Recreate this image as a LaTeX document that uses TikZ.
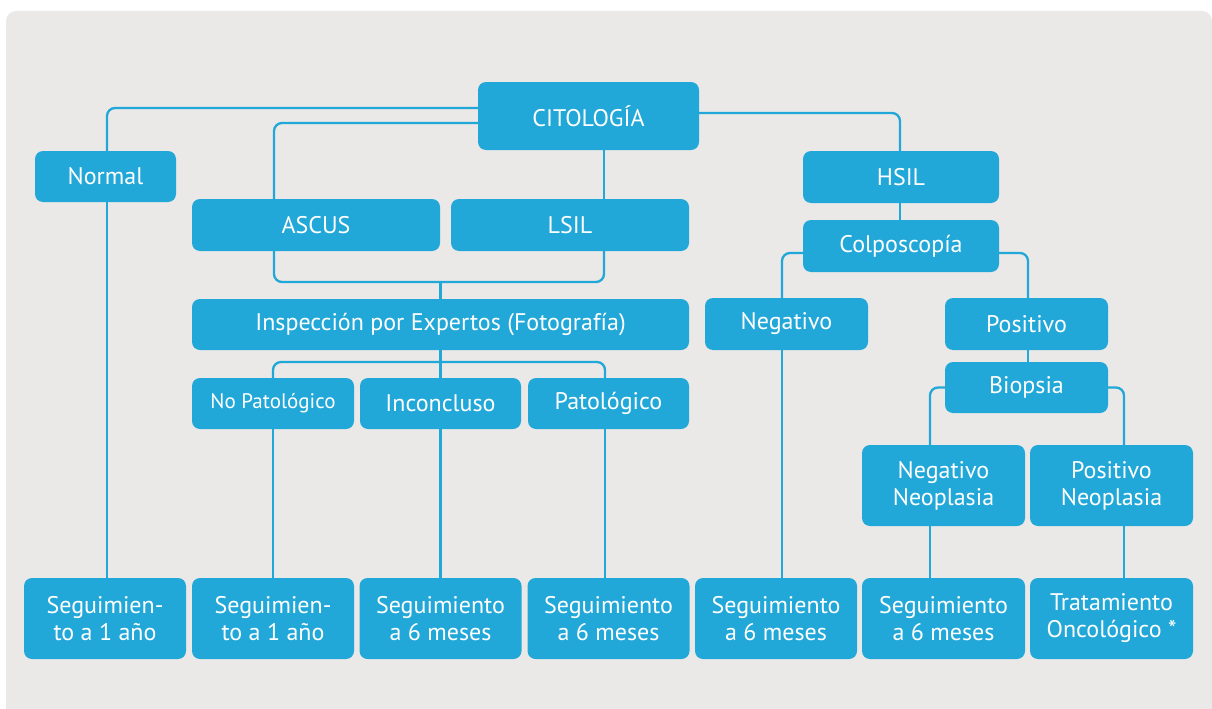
\documentclass[tikz,border=0pt]{standalone}
\usepackage{fontspec}
\setmainfont{PT Sans}
\definecolor{cblue}{HTML}{22A8D8}
\definecolor{bggrey}{HTML}{EBE9E7}
\tikzset{
  box/.style={fill=cblue, rounded corners=8pt, text=white, align=center, inner sep=0pt,
    font=\fontsize{24}{27}\selectfont},
  conn/.style={draw=cblue, line width=2.3pt, rounded corners=8pt},
}
\begin{document}
\begin{tikzpicture}[x=1pt,y=-1pt]
\clip (0,0) rectangle (1212,709);
\fill[bggrey, rounded corners=10pt] (6,11) rectangle (1212,730);
\coordinate (merge) at (440.5,282);
\coordinate (split) at (440.5,362);
% nodes
\node[box, minimum width=221pt, minimum height=68pt] (cito) at (588.5,116) {CITOLOGÍA};
\node[box, minimum width=141pt, minimum height=51pt] (normal) at (105.5,176.5) {Normal};
\node[box, minimum width=248pt, minimum height=52pt] (ascus) at (316,225) {ASCUS};
\node[box, minimum width=238pt, minimum height=52pt] (lsil) at (570,225) {LSIL};
\node[box, minimum width=196pt, minimum height=52pt] (hsil) at (901,177) {HSIL};
\node[box, minimum width=196pt, minimum height=52pt] (colpo) at (901,246) {Colposcopía};
\node[box, minimum width=163pt, minimum height=52pt] (neg) at (786.5,324) {Negativo};
\node[box, minimum width=163pt, minimum height=52pt] (pos) at (1026.5,324) {Positivo};
\node[box, minimum width=163pt, minimum height=51pt] (biop) at (1026.5,387.5) {Biopsia};
\node[box, minimum width=497pt, minimum height=51pt] (insp) at (440.5,324.5) {Inspección por Expertos (Fotografía)};
\node[box, minimum width=162pt, minimum height=51pt, font=\fontsize{21}{25}\selectfont] (nopat) at (273,403.5) {No Patológico};
\node[box, minimum width=161pt, minimum height=51pt] (incon) at (440.5,403.5) {Inconcluso};
\node[box, minimum width=161pt, minimum height=51pt] (pato) at (608.5,403.5) {Patológico};
\node[box, minimum width=163pt, minimum height=81pt] (negneo) at (943.5,485.5) {Negativo\\Neoplasia};
\node[box, minimum width=163pt, minimum height=81pt] (posneo) at (1111.5,485.5) {Positivo\\Neoplasia};
\node[box, minimum width=162pt, minimum height=81pt] (s1) at (105,618.5) {Seguimien-\\to a 1 año};
\node[box, minimum width=162pt, minimum height=81pt] (s2) at (273,618.5) {Seguimien-\\to a 1 año};
\node[box, minimum width=162pt, minimum height=81pt] (s3) at (440.5,618.5) {Seguimiento\\a 6 meses};
\node[box, minimum width=162pt, minimum height=81pt] (s4) at (608.5,618.5) {Seguimiento\\a 6 meses};
\node[box, minimum width=162pt, minimum height=81pt] (s5) at (776,618.5) {Seguimiento\\a 6 meses};
\node[box, minimum width=163pt, minimum height=81pt] (s6) at (943.5,618.5) {Seguimiento\\a 6 meses};
\node[box, minimum width=163pt, minimum height=81pt] (s7) at (1111.5,618.5) {Tratamiento\\Oncológico *};
% connectors
\draw[conn] ([yshift=8pt]cito.west) -| ([xshift=1.5pt]normal.north);
\draw[conn] ([yshift=-7pt]cito.west) -| ([xshift=-42pt]ascus.north);
\draw[conn] ([xshift=15.5pt]cito.south) -- ([xshift=34pt]lsil.north);
\draw[conn] ([yshift=3pt]cito.east) -| ([xshift=-1pt]hsil.north);
\draw[conn] ([xshift=-42pt]ascus.south) |- (merge) -| ([xshift=34pt]lsil.south);
\draw[conn] (merge) -- (insp.north);
\draw[conn] (nopat.north) |- (split) -| ([xshift=-3.5pt]pato.north);
\draw[conn] (insp.south) -- (incon.north);
\draw[conn] ([xshift=1.5pt]normal.south) -- ([xshift=2pt]s1.north);
\draw[conn] (nopat.south) -- (s2.north);
\draw[conn] (incon.south) -- (s3.north);
\draw[conn] ([xshift=-3.5pt]pato.south) -- ([xshift=-3.5pt]s4.north);
\draw[conn] ([xshift=-1pt]hsil.south) -- ([xshift=-1pt]colpo.north);
\draw[conn] ([yshift=-7pt]colpo.west) -| ([xshift=-4.5pt]neg.north);
\draw[conn] ([yshift=-7pt]colpo.east) -| ([xshift=1.5pt]pos.north);
\draw[conn] ([xshift=-4.5pt]neg.south) -- ([xshift=6pt]s5.north);
\draw[conn] ([xshift=1.5pt]pos.south) -- ([xshift=1.5pt]biop.north);
\draw[conn] (biop.west) -| ([xshift=-13.5pt]negneo.north);
\draw[conn] (biop.east) -| ([xshift=12.5pt]posneo.north);
\draw[conn] ([xshift=-13.5pt]negneo.south) -- ([xshift=-13.5pt]s6.north);
\draw[conn] ([xshift=12.5pt]posneo.south) -- ([xshift=12.5pt]s7.north);
\end{tikzpicture}
\end{document}
